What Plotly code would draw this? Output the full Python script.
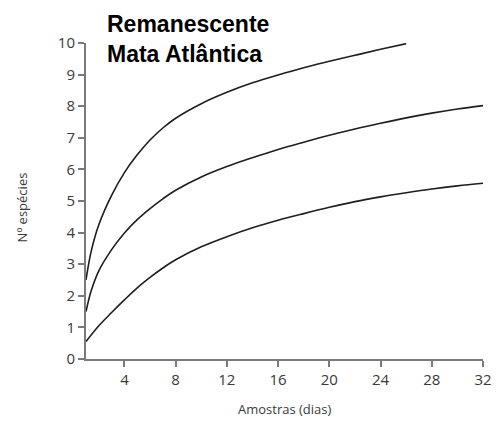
import plotly.graph_objects as go

# Species accumulation curves (Nº espécies vs. sampling days)
dias_sup = [1, 1.4, 2, 3, 4, 5, 6, 7, 8, 10, 12, 14, 16, 18, 20, 22, 24, 26]
especies_sup = [2.5, 3.4, 4.25, 5.18, 5.9, 6.46, 6.93, 7.31, 7.62, 8.08, 8.44, 8.74,
                8.99, 9.22, 9.42, 9.61, 9.8, 9.98]

dias_med = [1, 1.4, 2, 3, 4, 5, 6, 7, 8, 10, 12, 14, 16, 18, 20, 22, 24, 26, 28, 30, 32]
especies_med = [1.5, 2.15, 2.79, 3.46, 3.99, 4.41, 4.76, 5.07, 5.34, 5.76, 6.09, 6.37,
                6.63, 6.86, 7.08, 7.28, 7.46, 7.63, 7.78, 7.91, 8.02]

dias_inf = [1, 2, 3, 4, 5, 6, 7, 8, 10, 12, 14, 16, 18, 20, 22, 24, 26, 28, 30, 32]
especies_inf = [0.55, 1.05, 1.47, 1.87, 2.25, 2.58, 2.88, 3.14, 3.55, 3.87, 4.15,
                4.39, 4.6, 4.8, 4.98, 5.13, 5.26, 5.38, 5.48, 5.56]

x_ticks = [4, 8, 12, 16, 20, 24, 28, 32]
y_ticks = list(range(0, 11))

line_style = dict(color="#1e1e1e", width=1.6, shape="spline", smoothing=1.0)

fig = go.Figure()
for xs, ys in [(dias_sup, especies_sup), (dias_med, especies_med), (dias_inf, especies_inf)]:
    fig.add_trace(go.Scatter(x=xs, y=ys, mode="lines", line=line_style,
                             showlegend=False, hoverinfo="skip"))

axis_common = dict(
    showline=True, linecolor="#7a7a7a", linewidth=2,
    ticks="outside", ticklen=6, tickwidth=1.5, tickcolor="#7a7a7a",
    showgrid=False, zeroline=False,
    tickfont=dict(family="Open Sans", size=15, color="#3a3a3a"),
)

fig.update_xaxes(range=[1, 32], tickvals=x_ticks, **axis_common)
fig.update_yaxes(range=[0, 10], tickvals=y_ticks, **axis_common)

title_font = dict(family="Liberation Sans, Arial", size=23, color="#000000")
label_font = dict(family="Open Sans", size=13, color="#3a3a3a")

fig.update_layout(
    width=504, height=423,
    margin=dict(l=86, r=15, t=43, b=64),
    plot_bgcolor="white", paper_bgcolor="white",
    annotations=[
        dict(text="<b>Remanescente</b>", xref="paper", yref="paper",
             x=0.047, y=1.06, xanchor="left", yanchor="middle",
             showarrow=False, font=title_font),
        dict(text="<b>Mata Atlântica</b>", xref="paper", yref="paper",
             x=0.047, y=0.966, xanchor="left", yanchor="middle",
             showarrow=False, font=title_font),
        dict(text="Amostras (dias)", xref="paper", yref="paper",
             x=0.5, y=-0.158, xanchor="center", yanchor="middle",
             showarrow=False, font=label_font),
        dict(text="Nº espécies", xref="paper", yref="paper",
             x=-0.161, y=0.48, xanchor="center", yanchor="middle",
             textangle=-90, showarrow=False, font=label_font),
    ],
)

fig.write_html("out.html")
